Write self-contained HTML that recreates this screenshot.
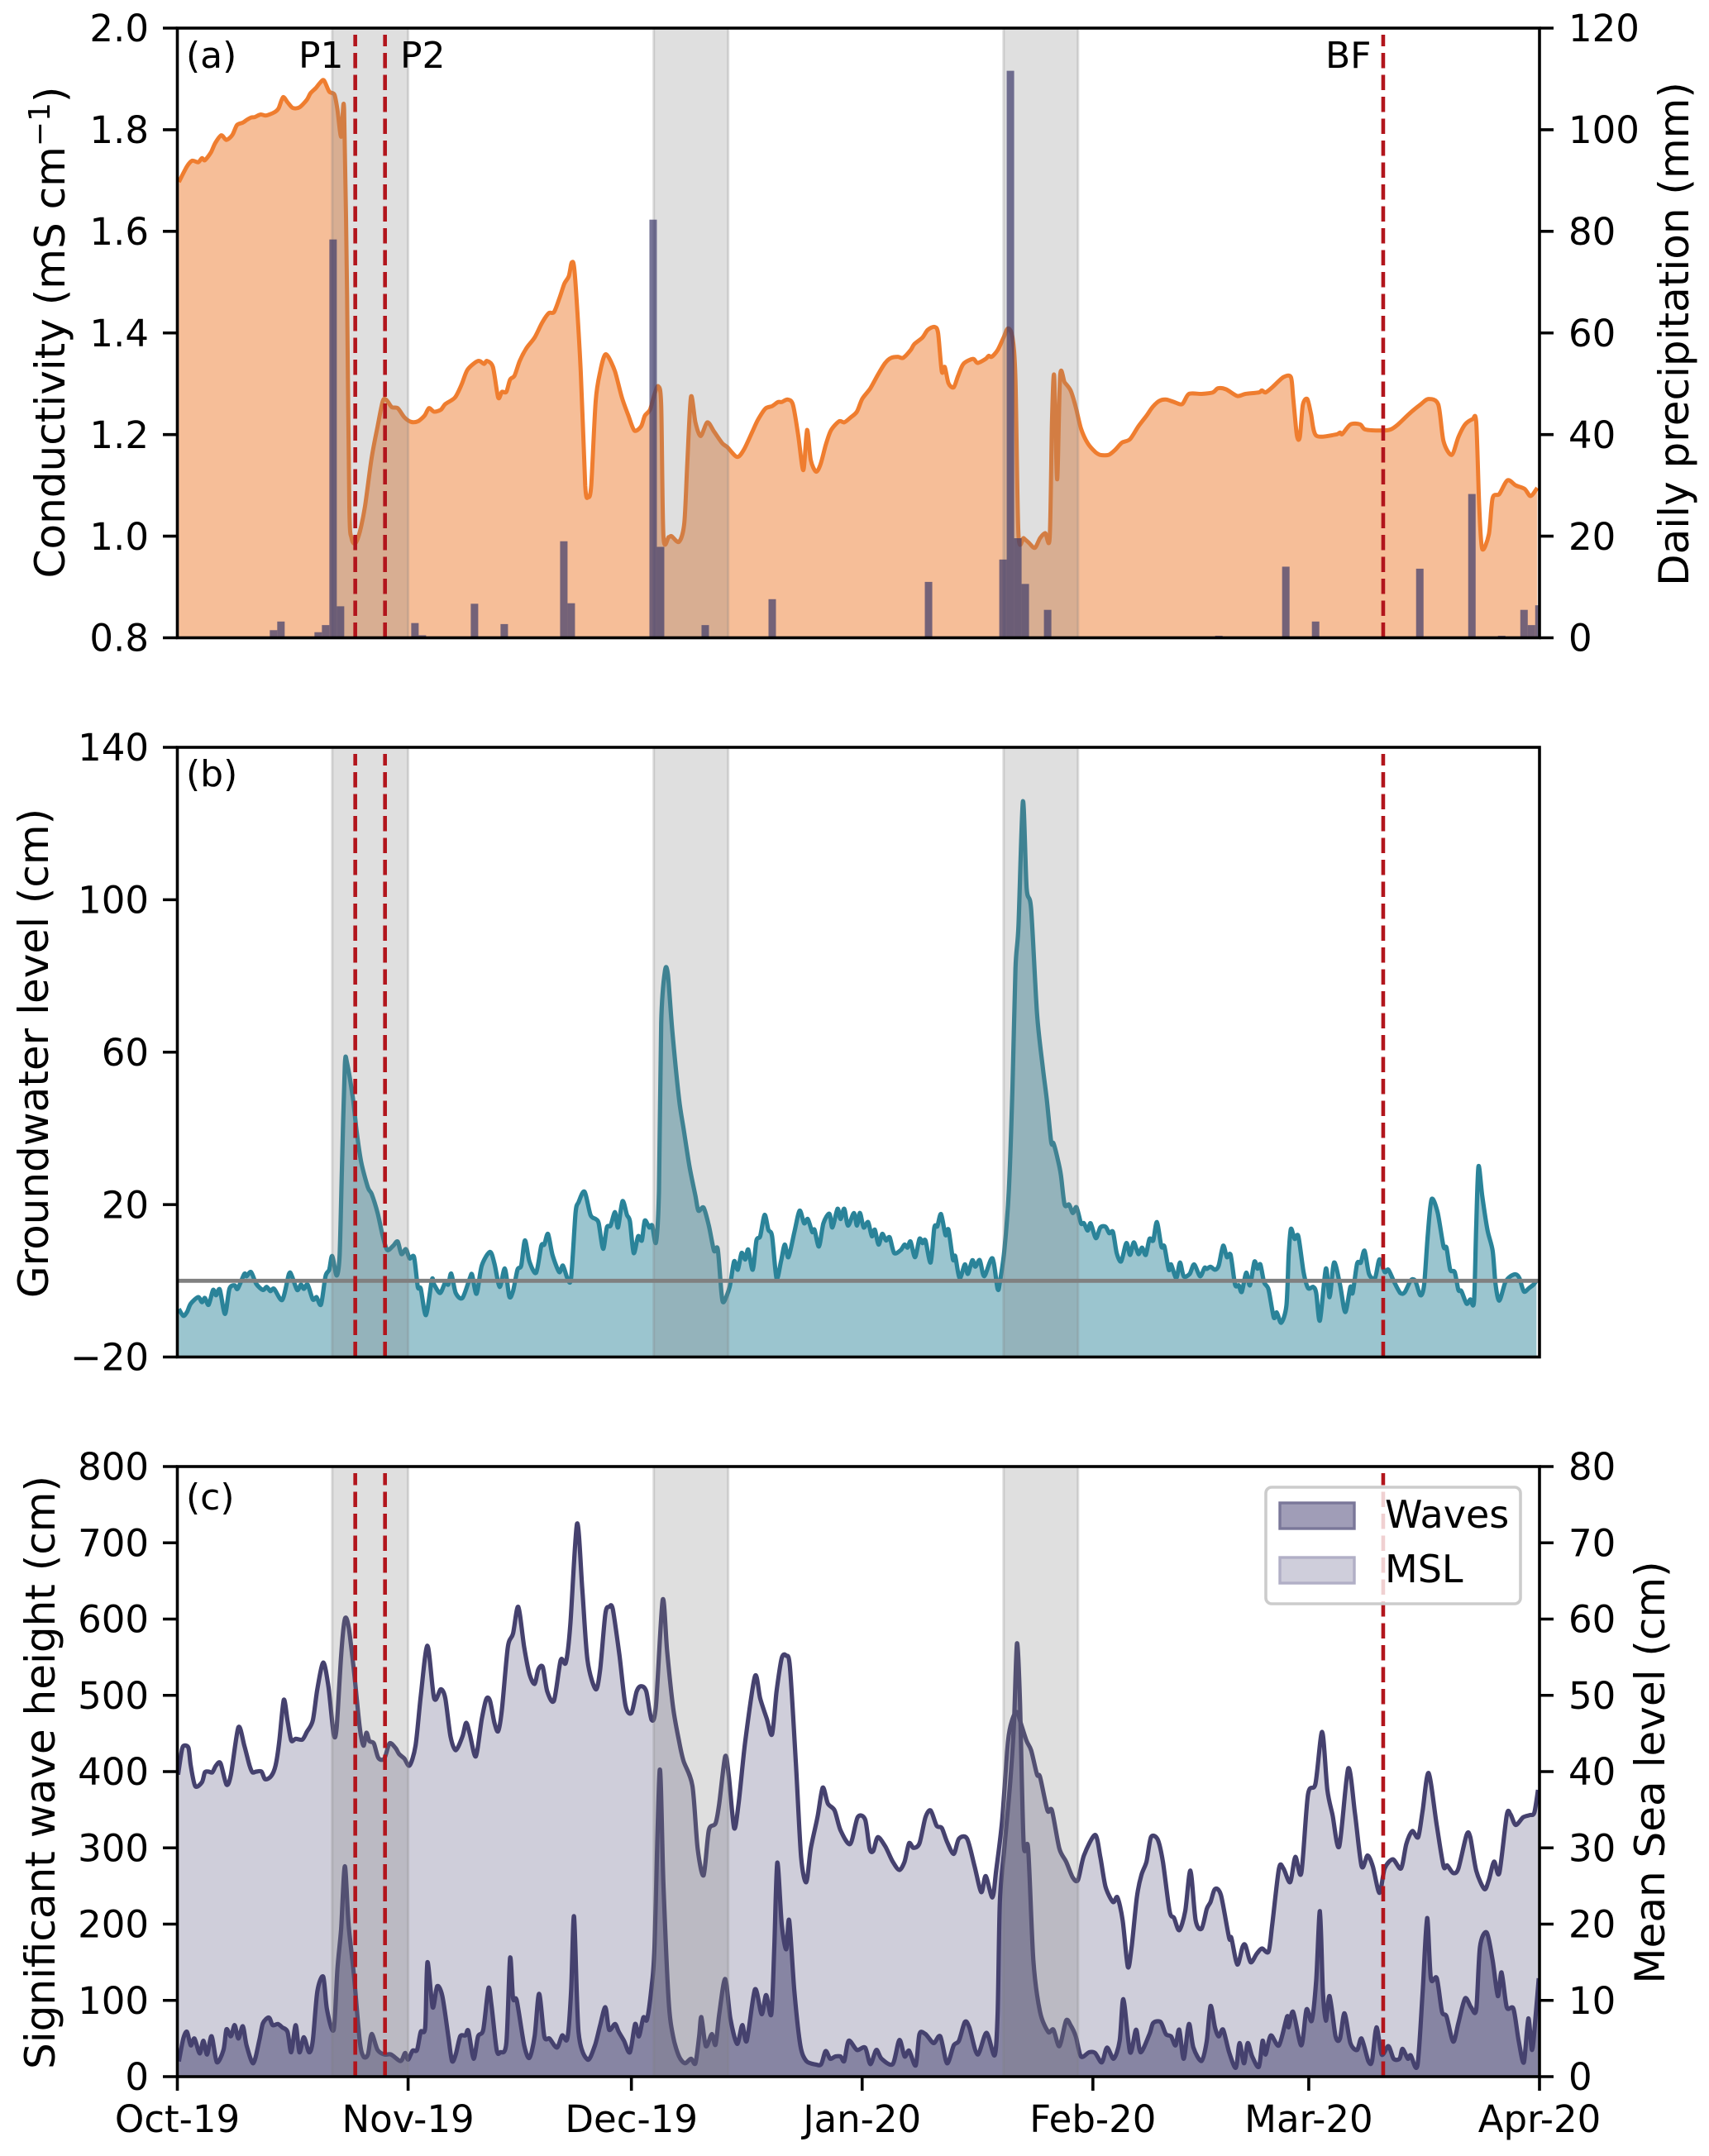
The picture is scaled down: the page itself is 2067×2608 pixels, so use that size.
<!DOCTYPE html>
<html lang="en">
<head>
<meta charset="utf-8">
<title>Conductivity, groundwater, waves and sea level</title>
<style>
html,body{margin:0;padding:0;background:#fff;}
svg{display:block;}
text{font-family:"DejaVu Sans","Liberation Sans",sans-serif;fill:#000;}
</style>
</head>
<body>
<svg id="chart" xmlns="http://www.w3.org/2000/svg" width="2067" height="2608" viewBox="0 0 2067 2608"></svg>
<script>
// ---------- shared categories ----------
const monthTickDays = [0, 31, 61, 92, 123, 152, 183];
const monthTickLabels = ['Oct-19', 'Nov-19', 'Dec-19', 'Jan-20', 'Feb-20', 'Mar-20', 'Apr-20'];
const eventSpans = [[20.8, 31], [64, 74], [111, 121]];
const eventLines = [23.9, 27.9, 162];
const dayMin = 0;
const dayMax = 183;

// ---------- panel (a) ----------
const conductivityTicks = [0.8, 1.0, 1.2, 1.4, 1.6, 1.8, 2.0];
const conductivityTickLabels = ['0.8', '1.0', '1.2', '1.4', '1.6', '1.8', '2.0'];
const precipTicks = [0, 20, 40, 60, 80, 100, 120];
const precipDays = [12,13,18,19,20,21,31,32,39,43,51,52,63,64,70,79,80,100,109,110,111,112,113,116,139,148,152,166,172,173,177,180,181,182];
const precipValues = [1.5,3.2,1.1,2.5,78.4,6.2,2.9,0.5,6.7,2.7,19,6.8,82.3,17.9,2.5,7.6,0.2,11,0.2,15.4,111.6,19.6,10.6,5.5,0.4,14,3.2,13.6,0.2,28.3,0.4,5.5,2.5,6.4];
const conductivity = [[0.2,1.697],[1.3,1.728],[2,1.739],[2.8,1.736],[3.3,1.744],[3.7,1.74],[4.5,1.755],[5.1,1.774],[5.9,1.789],[6.6,1.78],[7.4,1.79],[8,1.809],[8.8,1.814],[9.3,1.819],[9.9,1.824],[10.4,1.825],[11.2,1.83],[11.9,1.828],[13,1.834],[13.6,1.842],[14.2,1.864],[14.8,1.854],[15.5,1.843],[16.4,1.844],[17.4,1.859],[17.9,1.872],[18.6,1.882],[19.2,1.893],[19.7,1.897],[20.4,1.875],[21.1,1.869],[21.5,1.84],[22,1.786],[22.4,1.84],[22.8,1.474],[23.1,1.058],[23.4,0.996],[23.9,0.986],[24.5,1.008],[25.2,1.058],[26.1,1.154],[26.9,1.216],[27.6,1.266],[28.1,1.268],[28.8,1.254],[29.6,1.252],[30.5,1.234],[31.4,1.225],[32.3,1.226],[33.2,1.237],[33.8,1.252],[34.5,1.245],[35.4,1.249],[36,1.26],[37.3,1.273],[38.2,1.299],[39,1.328],[40.4,1.345],[41.2,1.339],[41.6,1.345],[42.4,1.333],[43.1,1.273],[43.6,1.284],[44.2,1.284],[44.7,1.308],[45.3,1.316],[46,1.345],[46.9,1.37],[48,1.391],[49,1.42],[49.9,1.439],[50.6,1.441],[51.3,1.467],[52,1.497],[52.6,1.512],[53,1.539],[53.4,1.516],[54.2,1.324],[54.8,1.1],[55.2,1.077],[55.6,1.1],[56.2,1.266],[56.8,1.324],[57.4,1.356],[57.9,1.353],[58.8,1.324],[59.7,1.274],[60.6,1.237],[61.4,1.208],[62.3,1.216],[62.8,1.237],[63.5,1.249],[64.1,1.279],[64.6,1.295],[65,1.258],[65.3,1.0],[66,0.998],[66.4,1.0],[67.4,0.989],[68.1,1.025],[68.5,1.141],[69,1.274],[69.6,1.224],[70.3,1.197],[71.2,1.224],[72.1,1.206],[73.2,1.183],[73.9,1.175],[75.2,1.156],[76.1,1.17],[77.2,1.204],[78,1.229],[79,1.251],[79.9,1.256],[80.7,1.264],[81.2,1.264],[82,1.269],[82.7,1.259],[83.4,1.2],[84.1,1.13],[84.6,1.209],[85.1,1.15],[85.8,1.127],[86.4,1.141],[87.1,1.179],[87.8,1.208],[88.9,1.226],[89.6,1.224],[90.4,1.233],[91.3,1.245],[92,1.27],[93.1,1.291],[94.2,1.32],[95.1,1.341],[95.9,1.351],[96.8,1.353],[97.5,1.351],[98.5,1.366],[99,1.378],[100.1,1.391],[100.8,1.406],[101.7,1.412],[102.2,1.4],[102.7,1.324],[103.1,1.333],[103.6,1.301],[104.3,1.293],[104.9,1.316],[105.6,1.339],[106.9,1.349],[107.5,1.341],[108.6,1.349],[109,1.355],[109.4,1.353],[110.2,1.366],[111,1.391],[111.6,1.409],[112.2,1.391],[112.6,1.308],[113,1.004],[113.7,0.996],[114.4,0.987],[115.2,0.977],[115.9,0.996],[116.6,1.006],[117.2,0.998],[117.5,1.224],[117.8,1.316],[118.2,1.112],[118.6,1.316],[119.2,1.303],[120,1.287],[120.7,1.254],[121.4,1.212],[122.3,1.183],[123.3,1.166],[124,1.16],[125.1,1.16],[126,1.17],[126.9,1.184],[128,1.191],[129.1,1.216],[130.2,1.237],[131,1.254],[131.9,1.266],[132.8,1.269],[133.9,1.264],[135,1.26],[135.9,1.28],[137.6,1.28],[139.1,1.283],[139.8,1.291],[140.9,1.289],[142.4,1.276],[143.5,1.28],[145.3,1.283],[145.7,1.287],[146.2,1.283],[147.1,1.293],[148.6,1.313],[149.6,1.313],[149.9,1.274],[150.4,1.199],[150.8,1.195],[151.2,1.258],[151.8,1.27],[152.3,1.241],[153,1.198],[155.6,1.2],[156.2,1.204],[156.5,1.201],[157.6,1.22],[158.9,1.22],[159.6,1.21],[161.8,1.208],[163,1.21],[164,1.22],[165.5,1.241],[167,1.259],[168.1,1.27],[169.4,1.259],[170.1,1.187],[171.2,1.16],[172.1,1.195],[173,1.22],[174,1.23],[174.5,1.224],[174.9,1.058],[175.3,0.975],[176.2,1.004],[176.7,1.075],[177.6,1.083],[178.7,1.11],[179.8,1.1],[181,1.093],[181.8,1.079],[182.7,1.095]];

// ---------- panel (b) ----------
const groundwaterTicks = [-20, 20, 60, 100, 140];
const groundwaterTickLabels = ['\u221220', '20', '60', '100', '140'];
const groundwater = [[0.2,-7.4],[0.8,-9.2],[1.3,-8.2],[1.8,-6],[2.8,-4.3],[3.3,-5.6],[3.7,-4.5],[4.2,-6.3],[4.8,-2.4],[5.2,-3.8],[5.7,-2.3],[6.4,-8.7],[7,-2.1],[7.7,-1.2],[8.1,-2.1],[9,1.8],[9.3,1.2],[9.9,2.3],[10.6,-0.8],[11.5,-2.4],[12,-1.6],[12.5,-2.7],[13,-2.1],[14.1,-5],[15,1.8],[15.4,1.2],[16.1,-2.4],[16.6,-1],[17,-2.1],[17.5,-1],[18.2,-4.9],[18.7,-4.3],[19.3,-6.2],[19.9,1.2],[20.4,2.9],[20.8,6.5],[21.4,1.4],[21.8,6.8],[22.1,28.9],[22.5,56.6],[22.8,57.1],[23.6,47.7],[24.1,38.9],[24.7,31.1],[25.6,24.5],[26.1,22.8],[26.9,17.8],[27.6,11.7],[28.2,8.1],[29,9.2],[29.6,10.3],[30.1,7],[30.7,8.3],[31.2,5.9],[31.8,6.2],[32.3,-1.6],[32.7,-2.1],[33.4,-9],[34.2,0.3],[34.5,-1],[35.3,-3.2],[36,-0.4],[36.4,-1],[36.8,1.9],[37.4,-3.2],[38.3,-4.5],[39.3,0.7],[39.6,1.6],[40.2,-3.4],[40.9,4],[42,7.6],[42.6,4.5],[43.3,-1.6],[44,3.2],[44.6,-4.1],[45.1,-2.7],[45.7,2.9],[46.2,4],[46.7,10.6],[47.3,5.1],[48.2,2.1],[48.9,9.2],[49.3,9.5],[49.8,12.3],[50.4,6.8],[51.3,2.3],[51.8,4],[52.4,0.7],[52.9,0.7],[53.5,17.8],[53.9,20.6],[54.7,23.4],[55.5,17.3],[56.2,16.2],[56.6,15.1],[57.2,8.4],[57.7,14],[58.2,14.5],[58.8,18],[59.2,14],[59.8,20.9],[60.4,17.3],[60.8,15.6],[61.3,7.3],[61.9,11.7],[62.4,10.6],[62.8,15.8],[63.4,14],[63.8,14.5],[64.3,10.1],[64.7,23.4],[65,67.7],[65.5,81.2],[65.9,80.4],[66.5,65.4],[67.4,47.7],[68,40],[68.8,30],[69.6,22.3],[70,18.4],[70.7,19.2],[71.4,14.5],[72.1,7.9],[72.6,8.3],[73.1,-3.2],[73.4,-5.6],[74.2,-1.6],[74.8,5.1],[75.3,2.9],[75.8,7.3],[76.3,5.6],[76.7,8.2],[77.3,2.9],[77.8,10.6],[78.3,11.7],[78.9,17.3],[79.4,13.4],[79.9,11.7],[80.5,0.7],[81.1,5.1],[81.6,9.5],[82.1,6.2],[82.9,12.8],[83.6,18.4],[84.2,15.1],[84.7,16.2],[85.3,12.8],[85.6,13.4],[86.2,9],[86.8,15.1],[87.6,17.6],[88,14],[88.7,18.9],[89.1,16.2],[89.6,18.9],[90.1,14.5],[90.9,17.8],[91.3,14.5],[91.7,17.8],[92.2,14],[92.8,15.4],[93.3,11.7],[93.7,13.4],[94.2,9.5],[94.7,12.3],[95.2,10.6],[95.7,11.4],[96.3,7.3],[97.2,8.1],[97.7,9.5],[98.1,8.7],[98.5,10.3],[99.1,6.2],[99.7,11],[100.1,9.9],[100.5,10.6],[101.2,4.8],[101.7,14],[102.1,14.3],[102.6,17.5],[103.2,12],[103.6,13.4],[104.2,5.6],[104.5,6.5],[105.1,0.7],[105.8,4.3],[106.2,1.8],[106.8,5.4],[107.2,3.7],[107.8,5.4],[108.4,1.2],[109.5,5.9],[110.2,-2.1],[110.5,-0.4],[111.1,7.9],[111.7,23.4],[112.2,51],[112.6,82],[113,93],[113.6,125.8],[114.1,103],[114.7,97.6],[115.5,70],[116.3,55.5],[116.8,47.7],[117.4,36.4],[117.7,36.1],[118.3,31.7],[118.7,27.8],[119.2,20],[119.8,20],[120.3,17.8],[120.8,19.3],[121.4,15.1],[121.8,15.1],[122.3,13.2],[122.7,15.1],[123.4,11.2],[124,14],[124.7,14.2],[125.2,12.5],[125.7,12.8],[126.2,7.3],[126.8,5.1],[127.5,9.9],[128,6.8],[128.5,10.1],[129.1,7],[129.6,8.7],[130.1,6.8],[130.6,11],[131.1,10.6],[131.6,15.4],[132.2,9],[132.6,9],[133.2,2.9],[133.5,4.3],[134.2,0.7],[134.7,4.8],[135.2,1.2],[136,1.8],[136.6,4.3],[137.4,1.2],[138,3.4],[138.3,3.1],[138.8,3.7],[139.4,2.9],[139.9,4],[140.5,9.2],[141,6.2],[141.5,6.8],[142.1,-1],[142.6,-1.2],[143,-2.9],[143.6,2.1],[144.1,-1.2],[144.7,5],[145.1,3.2],[145.5,4.3],[146,-0.4],[146.6,-2.3],[147.3,-9.6],[147.7,-8.3],[148.3,-11],[149,-6.5],[149.3,6.8],[149.6,13.6],[150.1,11],[150.6,11.7],[151.3,2.3],[151.9,-1.9],[152.6,-1.6],[153,-3.2],[153.5,-10.4],[154.3,3.2],[154.8,-4.3],[155.4,4.8],[156.2,-1],[156.9,-8.2],[157.6,-1.6],[157.9,-3.2],[158.5,4.5],[159,4.8],[159.5,7.9],[160.1,1.8],[160.9,0.7],[161.5,5.6],[162.2,2.3],[162.7,2.9],[163.5,-0.4],[164.3,-3.2],[164.9,-3],[165.7,0.1],[166.3,0],[167,-3.8],[167.5,-1],[168,12.3],[168.5,21.4],[169.3,18],[170.1,9],[170.5,8.7],[171,2.9],[171.6,2.3],[172.1,-2.4],[172.5,-2.7],[173.2,-6],[173.7,-4.9],[174.2,-5.4],[174.5,14.5],[174.8,30],[175.3,22.3],[176,13.4],[176.7,7.9],[177.1,-1],[177.6,-5.2],[178.4,-0.4],[179.1,1.2],[179.8,1.7],[180.3,0.7],[180.9,-2.8],[181.6,-1.9],[182.2,-1],[182.6,0.1]];

// ---------- panel (c) ----------
const waveTicks = [0, 100, 200, 300, 400, 500, 600, 700, 800];
const seaLevelTicks = [0, 10, 20, 30, 40, 50, 60, 70, 80];
const seaLevel = [[0.1,39.6],[0.6,42.8],[0.9,43.4],[1.5,43.1],[1.8,40.8],[2.4,38.1],[3.3,38.6],[3.7,39.9],[4.2,40],[4.7,39.9],[5.2,40.8],[5.8,41.1],[6.6,38.3],[7.2,39.6],[8.2,45.8],[9,43.4],[9.7,40.8],[10.1,39.9],[10.6,40],[11.3,40],[11.8,39],[12.6,39.4],[13.2,40.8],[13.7,44],[14.3,49.4],[14.8,46.7],[15.3,44.1],[15.9,44.3],[16.8,44.2],[17.4,45.2],[18.2,46.7],[18.8,50.8],[19.6,54.3],[20.3,51.1],[21,44.9],[21.4,45.8],[22,55.2],[22.5,60],[23,59],[23.7,53.4],[24.5,45.8],[25,43.4],[25.4,45.1],[25.8,44],[26.4,43.7],[27,41.8],[27.8,41.7],[28.5,43.7],[29.3,43.1],[29.8,42.3],[30.5,41.7],[31.2,40.8],[32,43.4],[32.7,49.9],[33.6,56.5],[34.5,49.6],[35.4,50.8],[36,49.6],[36.7,44.6],[37.4,42.8],[38.3,44.6],[38.8,46.4],[39.3,44.9],[40.1,42],[40.9,46.9],[41.5,49.5],[42,49.3],[42.6,46.4],[43.1,45.3],[43.6,48.1],[44.4,56.3],[45.1,58.1],[45.8,61.6],[46.6,56.3],[47.3,52.8],[48,51.5],[48.5,53.4],[49.1,53.7],[49.7,50.5],[50.6,49.3],[51.5,54.6],[52.2,54.3],[52.8,59.3],[53.7,72.5],[54.4,64],[55.1,54.6],[56.2,50.8],[56.8,53.4],[57.5,60.7],[58,61.6],[58.5,61.3],[59.4,55.2],[60.2,48.7],[61,47.7],[61.7,50.5],[62.3,51.2],[63,50.5],[63.7,46.8],[64.3,48.7],[65.2,62.5],[65.8,55.8],[66.6,48.4],[67.4,44],[68,41.4],[69.2,38.1],[69.9,29.9],[70.7,26.4],[71.4,32.3],[72.3,33.2],[72.8,35.8],[73.6,42],[74.1,39.3],[74.8,32.6],[75.4,35.8],[76.3,44],[77.6,52.5],[78.3,49.6],[79.2,46.9],[79.9,44.9],[80.5,50.5],[81.2,54.9],[81.8,55.2],[82.3,53.7],[83.1,41.1],[83.8,28.8],[84.5,25.5],[85.1,29.9],[86,34],[86.7,37.9],[87.4,35.8],[88.3,34.9],[89.1,32.3],[90.4,30.5],[91.4,34],[92.4,33.7],[93,29.9],[93.5,29.6],[94.1,31.4],[95.1,30.2],[96.1,28.2],[97,27.1],[97.7,28.2],[98.3,30.6],[98.9,30],[99.7,30.6],[100.5,34],[101.2,34.9],[102,32.9],[102.7,32.6],[103.4,30.8],[104.3,29.2],[105,31.2],[106.1,31.2],[107.1,27.6],[108,24.2],[108.6,26.3],[109.5,23.5],[110,27],[110.8,33.5],[111.6,44],[112.2,46.9],[112.8,47.8],[113.3,46.4],[114.1,44],[114.7,42.8],[115.5,39.6],[115.9,39.3],[116.9,34.9],[117.5,34.9],[118.5,29.9],[119.4,28.2],[120.3,26.1],[121,25.8],[121.8,29],[123.3,31.7],[124,28.8],[124.7,24.9],[125.7,22.9],[126.3,23.5],[127,20.5],[127.7,14.4],[128.2,17],[128.9,23.5],[129.5,26.4],[130.2,28.2],[130.8,31.4],[131.7,31.1],[132.4,28.2],[133.3,21.7],[133.9,20.8],[134.6,19.2],[135.4,21.7],[136.1,27],[136.8,20.5],[137.6,19.4],[138.3,22],[138.8,22.9],[139.4,24.6],[140.2,23.8],[141.3,18.2],[141.6,18.2],[142.4,14.7],[143.1,17],[143.5,17.2],[144.2,15],[145,16.1],[145.7,16.8],[146.6,16.4],[147.1,20],[148,27.3],[148.6,27.3],[149.5,25.5],[150.2,28.8],[151,26.7],[151.9,37],[152.9,38.4],[153.8,45.2],[154.5,37.6],[155.2,34.3],[156.1,30.2],[157.3,40.4],[158.2,34.6],[159.1,27.6],[159.9,29],[160.6,27.6],[161.5,24.1],[162.2,27.3],[163.3,28.5],[164.4,27.3],[165.1,30.5],[165.9,32.2],[166.7,31.4],[167.3,34.9],[168.1,39.8],[169.2,32.9],[170.1,27.6],[170.6,27.7],[171.4,26.7],[172.1,27.3],[173.2,31.7],[173.7,31.4],[174.5,27],[175.6,24.6],[176.2,25.8],[176.9,28.2],[177.6,26.7],[178.6,34.3],[179.1,34.4],[179.8,33],[180.8,34],[181.7,34.3],[182.3,34.6],[182.8,37.6]];
const waves = [[0.2,20],[0.8,50],[1.3,58.7],[1.8,41],[2.3,50],[3,30.5],[3.5,47],[4,29],[4.6,53],[5.3,19],[6.2,35],[6.6,62],[7.2,53],[7.7,67.5],[8.2,50],[8.8,66],[9.3,41],[10.2,17.6],[11,47],[11.5,70],[12.3,77.5],[12.8,67.5],[13.5,69],[14.1,64.6],[14.8,58.7],[15.3,32],[15.9,67.5],[16.4,32],[17,51.6],[17.7,32],[18.2,47],[18.8,111.5],[19.6,131],[20.1,88],[21,61.6],[21.5,141],[22,193.7],[22.5,275.8],[23,199.5],[23.7,135],[24.5,47],[25,26.4],[25.6,29],[26.1,55.8],[26.9,35],[27.8,29],[28.7,29],[30,20.5],[30.6,31],[31,22.3],[31.6,34],[32.2,35],[32.7,58.7],[33.3,64.6],[33.6,150],[34.3,91],[34.9,118.5],[35.6,105.6],[36.4,53],[36.9,20.5],[37.4,29],[38,52.8],[38.7,54],[39.1,60],[39.8,23.5],[40.4,52.8],[41.1,61.6],[41.8,116],[42.2,94],[42.9,35],[43.4,32],[44.2,44],[44.7,155.5],[45.1,102.7],[45.6,99.8],[46.6,41],[47.3,24.6],[48,52.8],[48.6,108.6],[49.3,52.8],[50,50],[51,38],[51.7,54],[52.4,50],[52.9,111.5],[53.3,210],[53.9,58.7],[55.1,22.3],[56.1,41],[56.8,67.5],[57.5,91],[58,61.6],[58.8,69],[59.3,58.7],[60,47],[60.8,32],[61.5,69],[62,52.8],[62.6,77.5],[63.1,75],[63.7,117],[64.1,170],[64.8,402],[65.3,252],[66,100],[66.6,52.8],[67.4,26.4],[68.2,17.6],[69,23.5],[69.6,17.6],[70.1,52.8],[70.4,78],[71,40],[71.8,55.8],[72.3,42],[72.8,82],[73.6,128],[74.3,76],[75.2,43],[75.9,67.5],[76.5,47],[77.6,114.4],[78.5,82],[79.1,107],[79.8,82],[80.2,170],[80.6,280.5],[81.2,199.5],[81.8,167],[82.2,205],[82.9,111.5],[83.7,41],[84.5,20.5],[85.8,15.8],[86.5,16.4],[87.1,33.5],[87.7,23.5],[88.4,26.4],[89.1,26.4],[89.6,20.5],[90.2,47],[91.3,35],[92.4,38],[93.1,16.4],[93.9,35],[94.6,23.5],[96.1,16.4],[97,48],[97.7,26.4],[98.3,34],[99.2,14.7],[99.7,55.8],[100.5,55.8],[101.6,44],[102.5,52.8],[103.4,17.6],[104.3,41],[105,47],[105.8,71.6],[106.4,64.6],[107.5,29],[108.7,57.5],[109.8,28],[110.2,82],[110.5,229],[111.1,299],[111.9,387],[112.4,463.6],[112.8,568],[113.2,493],[113.7,305],[114.3,299],[115,152.6],[115.9,85],[117,58.7],[117.7,61.6],[118.5,40],[119.4,73.4],[120,67.5],[120.7,52.8],[121.4,26.4],[122.5,32],[123.3,31],[124.2,18.8],[124.9,38],[125.8,23.5],[126.6,47],[127.1,101.5],[128,32],[128.8,61.6],[129.4,32],[130.6,55.8],[131.1,70.4],[132.1,71.6],[132.8,55.8],[133.5,52.8],[134.1,41],[134.6,61.6],[135.2,23.5],[135.9,69],[136.5,38],[137.6,20.5],[138.3,47],[138.8,92.7],[139.4,64.6],[139.9,52.8],[140.5,61.6],[141.3,32],[142.2,11.7],[142.7,44],[143.3,17.6],[143.8,44],[144.4,26.4],[145.3,13],[145.8,47],[146.2,29],[146.9,54],[148,41],[149.1,79],[149.3,64.6],[149.9,85],[151,41],[151.7,88],[152.4,73.4],[153,126],[153.5,217],[153.9,111.5],[154.3,73.4],[154.8,105.6],[155.6,52.8],[156.2,50],[156.8,83],[157.6,44],[158.5,35],[159.1,50],[160,20.5],[160.5,20.5],[161.1,64.6],[161.8,29],[162.7,40],[163.4,23.5],[164.2,23.5],[164.6,36.4],[165.3,23.5],[165.7,28],[166.6,14.7],[167.3,111.5],[167.9,208],[168.4,129],[169.2,129],[169.9,85],[170.5,79],[171.4,45.8],[172.1,70.4],[173,102.7],[173.8,91],[174.5,88],[175,170],[175.9,189],[176.7,152.6],[177.4,105.6],[177.9,136.7],[178.6,91],[179.5,89],[180.2,47],[180.9,18.8],[181.5,76.3],[182,35],[182.5,82],[182.9,129]];

// ---------- layout ----------
const plotLeft = 214.5, plotRight = 1862;
const NS = 'http://www.w3.org/2000/svg';
const svg = document.getElementById('chart');

function mk(tag, attrs, parent) {
  const e = document.createElementNS(NS, tag);
  for (const k in attrs) e.setAttribute(k, attrs[k]);
  (parent || svg).appendChild(e);
  return e;
}
function xScale(d) { return plotLeft + (d - dayMin) / (dayMax - dayMin) * (plotRight - plotLeft); }
function yScale(v, lo, hi, top, bottom) { return bottom - (v - lo) / (hi - lo) * (bottom - top); }
function linePath(series, yf) {
  const pts = series.map(function (p) { return [xScale(p[0]), yf(p[1])]; });
  const k = 0.14;
  let d = 'M' + pts[0][0].toFixed(1) + ' ' + pts[0][1].toFixed(1);
  for (let i = 0; i < pts.length - 1; i++) {
    const p0 = pts[Math.max(i - 1, 0)], p1 = pts[i], p2 = pts[i + 1], p3 = pts[Math.min(i + 2, pts.length - 1)];
    const c1x = Math.min(p1[0] + (p2[0] - p0[0]) * k, p2[0]);
    const c1y = p1[1] + (p2[1] - p0[1]) * k;
    const c2x = Math.max(p2[0] - (p3[0] - p1[0]) * k, p1[0]);
    const c2y = p2[1] - (p3[1] - p1[1]) * k;
    d += 'C' + c1x.toFixed(1) + ' ' + c1y.toFixed(1) + ' ' + c2x.toFixed(1) + ' ' + c2y.toFixed(1) + ' ' + p2[0].toFixed(1) + ' ' + p2[1].toFixed(1);
  }
  return d;
}
function areaPath(series, yf, baseY) {
  const first = series[0][0], last = series[series.length - 1][0];
  return linePath(series, yf) + 'L' + xScale(last).toFixed(1) + ' ' + baseY + 'L' + xScale(first).toFixed(1) + ' ' + baseY + 'Z';
}

function drawBands(g, top, bottom) {
  eventSpans.forEach(function (s) {
    const r = mk('rect', {x: xScale(s[0]), y: top, width: xScale(s[1]) - xScale(s[0]), height: bottom - top, fill: 'rgb(128,128,128)', 'fill-opacity': 0.25, stroke: 'rgb(128,128,128)', 'stroke-opacity': 0.25, 'stroke-width': 3}, g);
    
    
  });
}
function drawEventLines(g, top, bottom) {
  eventLines.forEach(function (d) {
    const l = mk('line', {x1: xScale(d), x2: xScale(d), y1: bottom, y2: top + 8, stroke: '#b2151c', 'stroke-width': 4.6, 'stroke-dasharray': '18.5 8'}, g);
    
    
  });
}
function drawFrame(top, bottom) {
  const f = mk('rect', {x: plotLeft, y: top, width: plotRight - plotLeft, height: bottom - top, fill: 'none', stroke: '#000', 'stroke-width': 3.6});
  
  
}
function drawYTicks(ticks, labels, lo, hi, top, bottom, side) {
  ticks.forEach(function (v, i) {
    const y = yScale(v, lo, hi, top, bottom);
    const x0 = side === 'left' ? plotLeft : plotRight;
    const x1 = side === 'left' ? 197 : 1879;
    const t = mk('line', {x1: x0, x2: x1, y1: y, y2: y, stroke: '#000', 'stroke-width': 3.6});
    
    
    const tx = mk('text', {x: side === 'left' ? 180 : 1897, y: y + 16.2, 'font-size': 45, 'text-anchor': side === 'left' ? 'end' : 'start'});
    tx.textContent = labels[i];
    
    
  });
}
function addLabel(str, x, y, size, name, anchor) {
  const t = mk('text', {x: x, y: y, 'font-size': size, 'text-anchor': anchor || 'start'});
  t.textContent = str;
  
  
  return t;
}
function addRotated(str, x, y, name) {
  const t = mk('text', {x: 0, y: 0, 'font-size': 50, 'text-anchor': 'middle', transform: 'translate(' + x + ' ' + y + ') rotate(-90)'});
  t.textContent = str;
  
  
  return t;
}
function addClip(id, top, bottom) {
  const c = mk('clipPath', {id: id});
  mk('rect', {x: plotLeft, y: top, width: plotRight - plotLeft, height: bottom - top}, c);
  const g = mk('g', {'clip-path': 'url(#' + id + ')'});
  return g;
}

// ---------- panel (a) drawing ----------
(function () {
  const top = 34, bottom = 771.5;
  const yC = function (v) { return yScale(v, 0.8, 2.0, top, bottom); };
  const yP = function (v) { return yScale(v, 0, 120, top, bottom); };
  const g = addClip('clip-a', top, bottom);
  
  
  const area = mk('path', {d: areaPath(conductivity, yC, bottom), fill: '#ed7d31', 'fill-opacity': 0.5}, g);
  
  
  const line = mk('path', {d: linePath(conductivity, yC), fill: 'none', stroke: '#ef7d2f', 'stroke-width': 5, 'stroke-linejoin': 'round'}, g);
  
  
  drawBands(g, top, bottom);
  drawEventLines(g, top, bottom);
  precipDays.forEach(function (d, i) {
    const y = yP(precipValues[i]);
    const b = mk('rect', {x: xScale(d + 0.42), y: y, width: xScale(d + 1.42) - xScale(d + 0.42), height: bottom - y, fill: '#3d3b6b', 'fill-opacity': 0.7}, g);
    
    
  });
  drawFrame(top, bottom);
  drawYTicks(conductivityTicks, conductivityTickLabels, 0.8, 2.0, top, bottom, 'left');
  drawYTicks(precipTicks, precipTicks.map(String), 0, 120, top, bottom, 'right');
  const yl = addRotated('Conductivity (mS cm', 78, 402, 'conductivity-y-axis-title');
  const sup = mk('tspan', {dy: -18, 'font-size': 36}, yl);
  sup.textContent = '\u22121';
  const cl = mk('tspan', {dy: 18}, yl);
  cl.textContent = ')';
  addRotated('Daily precipitation (mm)', 2042, 404, 'precipitation-y-axis-title');
  addLabel('(a)', 225, 82, 44, 'panel-a-label');
  addLabel('P1', 361, 82, 44, 'p1-label');
  addLabel('P2', 484, 82, 44, 'p2-label');
  addLabel('BF', 1603, 82, 44, 'bf-label');
})();

// ---------- panel (b) drawing ----------
(function () {
  const top = 904, bottom = 1641.5;
  const yG = function (v) { return yScale(v, -20, 140, top, bottom); };
  const g = addClip('clip-b', top, bottom);
  
  
  const area = mk('path', {d: areaPath(groundwater, yG, bottom), fill: '#2a8399', 'fill-opacity': 0.47}, g);
  
  
  const line = mk('path', {d: linePath(groundwater, yG), fill: 'none', stroke: '#2a8399', 'stroke-width': 5.2, 'stroke-linejoin': 'round'}, g);
  
  
  const zero = mk('line', {x1: plotLeft, x2: plotRight, y1: yG(0), y2: yG(0), stroke: '#808080', 'stroke-width': 4.8}, g);
  
  
  drawBands(g, top, bottom);
  drawEventLines(g, top, bottom);
  drawFrame(top, bottom);
  drawYTicks(groundwaterTicks, groundwaterTickLabels, -20, 140, top, bottom, 'left');
  addRotated('Groundwater level (cm)', 58, 1274, 'groundwater-y-axis-title');
  addLabel('(b)', 225, 951, 44, 'panel-b-label');
})();

// ---------- panel (c) drawing ----------
(function () {
  const top = 1774, bottom = 2512;
  const yW = function (v) { return yScale(v, 0, 800, top, bottom); };
  const yS = function (v) { return yScale(v, 0, 80, top, bottom); };
  const g = addClip('clip-c', top, bottom);
  
  
  const areaS = mk('path', {d: areaPath(seaLevel, yS, bottom), fill: '#3f3b6c', 'fill-opacity': 0.25}, g);
  
  
  const areaW = mk('path', {d: areaPath(waves, yW, bottom), fill: '#3f3b6c', 'fill-opacity': 0.5}, g);
  
  
  const lineS = mk('path', {d: linePath(seaLevel, yS), fill: 'none', stroke: '#45416e', 'stroke-width': 5.2, 'stroke-linejoin': 'round'}, g);
  
  
  const lineW = mk('path', {d: linePath(waves, yW), fill: 'none', stroke: '#45416e', 'stroke-width': 5.2, 'stroke-linejoin': 'round'}, g);
  
  
  drawBands(g, top, bottom);
  drawEventLines(g, top, bottom);
  drawFrame(top, bottom);
  drawYTicks(waveTicks, waveTicks.map(String), 0, 800, top, bottom, 'left');
  drawYTicks(seaLevelTicks, seaLevelTicks.map(String), 0, 80, top, bottom, 'right');
  monthTickDays.forEach(function (d, i) {
    const t = mk('line', {x1: xScale(d), x2: xScale(d), y1: bottom, y2: 2529, stroke: '#000', 'stroke-width': 3.6});
    
    
    addLabel(monthTickLabels[i], xScale(d), 2579, 45, 'x-tick-label', 'middle');
  });
  addRotated('Significant wave height (cm)', 66, 2144, 'wave-height-y-axis-title');
  addRotated('Mean Sea level (cm)', 2013, 2144, 'mean-sea-level-y-axis-title');
  addLabel('(c)', 225, 1826, 44, 'panel-c-label');

  const legend = mk('g', {});
  
  
  const box = mk('rect', {x: 1531, y: 1799, width: 308, height: 141, rx: 7, ry: 7, fill: '#fff', 'fill-opacity': 0.8, stroke: '#cccccc', 'stroke-width': 3.6}, legend);
  
  
  const p1 = mk('rect', {x: 1548, y: 1818, width: 90, height: 31, fill: '#a09db7', stroke: '#7a7799', 'stroke-width': 3.4}, legend);
  
  
  const p2 = mk('rect', {x: 1548, y: 1884, width: 90, height: 31, fill: '#cfcedb', stroke: '#b1afc6', 'stroke-width': 3.4}, legend);
  
  
  addLabel('Waves', 1675, 1848, 46, 'legend-entry-waves');
  addLabel('MSL', 1675, 1914, 46, 'legend-entry-msl');
})();
</script>
</body>
</html>
